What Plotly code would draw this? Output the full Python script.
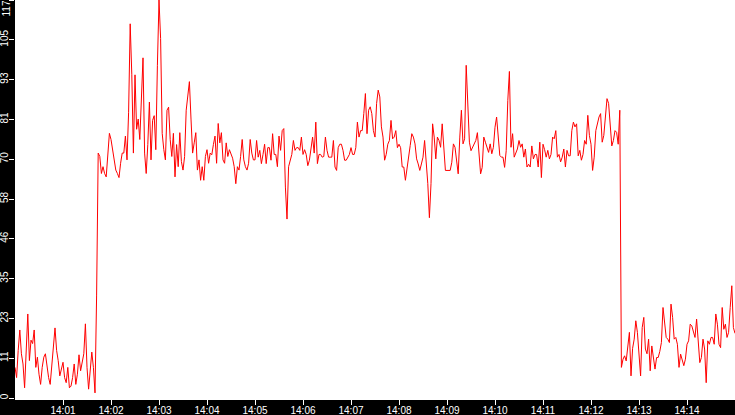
import pandas as pd
import plotly.graph_objects as go

# one sample every 2 seconds, each block starts at the given second after 14:00:00
STEP_S = 2
BASE = pd.Timestamp("2024-01-01 14:00:00")

low_start_t0 = 0
low_start = [9, 6, 14, 20, 13, 10, 3, 17, 24.7, 11,
             17, 16, 20, 9, 12, 7, 4, 9, 12, 13,
             9, 6, 4, 9, 16, 20.6, 14, 11, 6.5, 9,
             10.5, 6, 4.5, 9, 3, 3.5, 6, 10, 4, 7,
             12.7, 8, 11, 13, 21.8, 9, 2.6, 9, 13.5, 9,
             1.5]

rise_t0 = 102
rise = [30]

high_a_t0 = 104
high_a = [72, 71, 66, 68, 66, 65, 72.8, 77.8, 76, 73,
          71, 67, 66, 64.8, 69, 72, 72, 77, 70, 84,
          110, 95, 72, 95, 79, 82, 76, 89, 100, 72,
          66, 74.5, 87, 70, 81.6, 83, 73, 97.8, 117, 105.7,
          77.8, 73, 70, 84.6, 85.5, 76, 71, 77.8, 65, 74.5,
          68, 78, 69.5, 67, 71, 84.6, 89.5, 93, 82, 72,
          75, 78, 67, 70, 64, 68, 64, 71, 73, 69,
          72, 71.5, 74.5, 77, 69, 80.7, 75, 78, 70, 69,
          75, 71, 73, 72, 70.5, 68, 63, 68, 67, 71,
          76, 70, 68, 67, 69, 76, 72, 70, 70]

high_b_t0 = 302
high_b = [75.7, 70.8, 72.8, 68.9, 71.6, 74.6, 68.9, 73.6, 73.6, 69.9,
          77.7, 71.6, 71.6, 68, 77, 72.8, 78.6, 79.2, 62, 52.6,
          68, 69.9, 71.6, 75.7, 72.8, 73.6, 73.6, 72.8, 76.7, 71.6,
          73, 71.6, 68.3, 69.9, 73.6, 76.7, 72, 81.1, 68.9, 71.6,
          71.6, 70.8, 71, 76.7, 72.8, 70.8, 70.8, 70.8, 75.7, 67.9,
          66.9, 73.6, 74.6, 74.6, 72.8, 69.9, 69.9, 70.8, 71.6, 73.6,
          71.6, 71.6, 73.6, 81.1, 76.7, 78.6, 78.6, 83.6, 89.5, 77.7,
          84.6, 85.6, 83.6, 78.6, 76.7, 86.6, 90.5, 88.5, 79.7, 76.7,
          69.9, 71.6, 74.6, 75.7, 81.6, 76.2, 76.7, 78.6, 73.6, 74.6,
          73.6, 67.9, 67.9, 64]

high_c_t0 = 490
high_c = [68, 71.3, 74.2, 77.7, 76.7, 74.7, 70.3, 68.8, 66.9, 68.8,
          70.8, 75.7, 69.8, 63, 53, 63, 80.6, 76.7, 70.3, 76.7,
          75.7, 73.7, 80.6, 73.7, 66.9, 66.9, 66.9, 66.9, 69.3, 74.7,
          73.7, 68.8, 65.9, 76.7, 84.6, 74.7, 76.2, 97.8, 84.6, 75.2,
          72.7, 73.7, 74.7, 75.7, 78, 72.7, 65.9, 67.8, 76.7, 75.2,
          73.7, 72.2, 74.7, 71.8, 73.7, 79.6, 82.6, 75.7, 71.3, 70.8,
          70.8, 67.8, 72.7, 87.5, 96, 73.7, 77.7, 70.8, 71.8, 73.2,
          75.7, 73.7, 74.7, 70.8]

high_d_t0 = 638
high_d = [73.2, 67.9, 68.7, 67.9, 74.1, 70.3, 71.6, 71.6, 67.9, 75.2,
          64.8, 74.6, 73, 70.8, 72.8, 70.3, 71.6, 76.7, 76.2, 78.6,
          70.8, 71.6, 69.4, 70.8, 73.2, 67.9, 72.8, 71.2, 71.2, 78.6,
          81.1, 79.7, 80.6, 71.2, 72.8, 69.9, 71.6, 75.7, 74.6, 83.1,
          77.2, 74.6, 66.9, 70.8, 78.6, 81.1, 82.6, 83.6, 75.2, 77.2,
          82.6, 88, 86.6, 79.7, 74.1, 75.7, 78.6, 78.1, 74.6, 84.6]

low_end_t0 = 758
low_end = [9, 11.4, 12.4, 10.9, 16.3, 19.3, 6.5, 14.6, 17.3, 22.7,
           19.3, 11.9, 6.5, 20.7, 23.7, 14.4, 13, 17.3, 8, 15.3,
           10.9, 8.5, 11.9, 11.9, 13.7, 16.3, 26.6, 21.7, 17.8, 17.3,
           16.3, 27.6, 23.7, 17.3, 17.8, 15.8, 9, 12.9, 10.9, 9.5,
           11.4, 15.8, 16.8, 21.7, 21.2, 19.7, 17.8, 23.2, 16.8, 10.4,
           11.9, 17.3, 14.4, 4.5, 16.8, 15.8, 17.8, 17.8, 15.8, 24.7,
           21.7, 15.8, 14.8, 26.6, 20.2, 21.7, 17.8, 19.3, 26.6, 33,
           20.7, 19]

y_tick_labels = ["0", "11", "23", "35", "46", "58", "70", "81", "93", "105", "117"]
x_tick_minutes = [1, 2, 3, 4, 5, 6, 7, 8, 9, 10, 11, 12, 13, 14]

segments = [(low_start_t0, low_start), (rise_t0, rise), (high_a_t0, high_a),
            (high_b_t0, high_b), (high_c_t0, high_c), (high_d_t0, high_d),
            (low_end_t0, low_end)]

times, values = [], []
for t0, vals in segments:
    for i, v in enumerate(vals):
        times.append(BASE + pd.Timedelta(seconds=t0 + i * STEP_S))
        values.append(v)

fig = go.Figure()
fig.add_trace(go.Scatter(x=times, y=values, mode="lines",
                         line=dict(color="#ff0000", width=1)))

font = dict(family="Liberation Sans", size=10, color="white")
fig.update_layout(
    width=735, height=415,
    margin=dict(l=15, r=0, t=0, b=17),
    paper_bgcolor="black", plot_bgcolor="white",
    showlegend=False,
)
fig.update_xaxes(
    type="date",
    range=[BASE, BASE + pd.Timedelta(minutes=15)],
    tickvals=[BASE + pd.Timedelta(minutes=m) for m in x_tick_minutes],
    tickformat="%H:%M",
    ticks="outside", ticklen=5, tickcolor="white", tickwidth=1,
    tickfont=font, ticklabelstandoff=-3,
    showgrid=False, zeroline=False,
    showline=True, linecolor="white", linewidth=2,
    automargin=False,
)
# top label would be cut at the edge, so it is drawn as an annotation below
tick_text = y_tick_labels[:-1] + [""]
fig.update_yaxes(
    range=[0, 117],
    tickvals=[11.7 * i for i in range(len(y_tick_labels))],
    ticktext=tick_text,
    tickangle=-90,
    ticks="outside", ticklen=5, tickcolor="white", tickwidth=1,
    tickfont=font, ticklabelstandoff=-3,
    showgrid=False, zeroline=False, showline=False,
    automargin=False,
)
fig.add_annotation(text=y_tick_labels[-1], xref="paper", yref="paper",
                   x=0, y=1, xanchor="right", yanchor="top", xshift=-3,
                   textangle=-90, showarrow=False, font=font,
                   borderpad=0)

# page margin off so the 735x415 figure fills the window exactly
fig.write_html("out.html", config={"displayModeBar": False},
               post_script="document.body.style.margin='0';document.body.style.overflow='hidden';")
